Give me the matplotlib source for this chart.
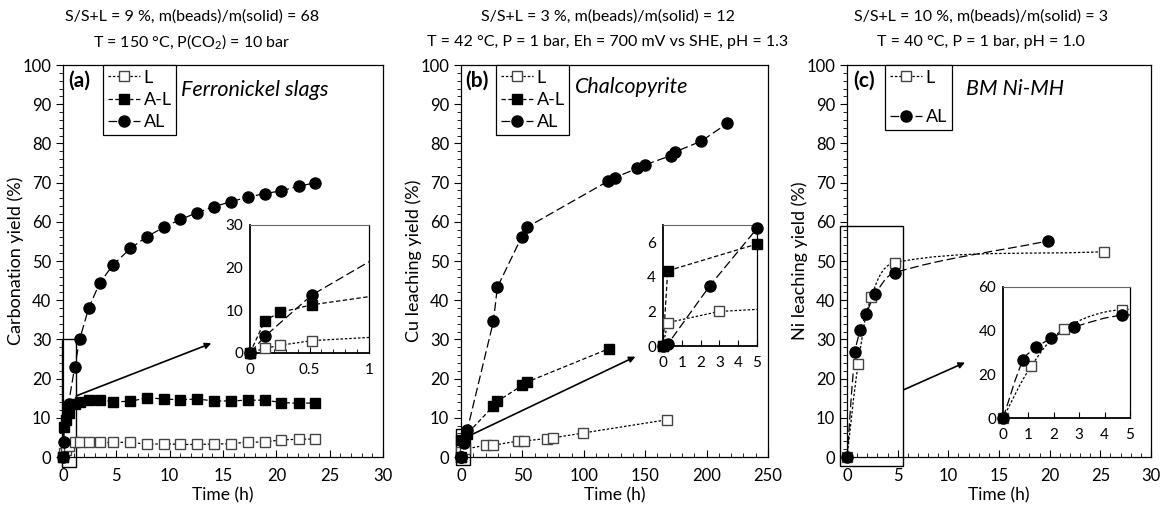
import numpy as np
import matplotlib
matplotlib.use("Agg")
import matplotlib.pyplot as plt
from matplotlib.path import Path
from matplotlib.patches import PathPatch, Rectangle
from matplotlib.lines import Line2D
from matplotlib.ticker import MultipleLocator

plt.rcParams['font.family'] = ['Lato', 'DejaVu Sans']
plt.rcParams['mathtext.fontset'] = 'custom'
plt.rcParams['mathtext.rm'] = 'Lato'

# ---- data ----
# (a) ferronickel slags, carbonation yield (%)
a_L_t = [0, 0.125, 0.25, 0.52, 1.1, 1.57, 2.41, 3.44, 4.69, 6.31, 7.87, 9.44, 11.0, 12.56, 14.19, 15.72, 17.31, 18.9, 20.47, 22.09, 23.59]
a_L_y = [0, 1.1, 1.8, 2.9, 3.8, 3.8, 3.8, 3.7, 3.7, 3.8, 3.2, 3.4, 3.2, 3.2, 3.3, 3.4, 3.8, 3.8, 4.4, 4.5, 4.6]
a_AmL_t = [0, 0.125, 0.25, 0.52, 1.1, 1.57, 2.41, 3.44, 4.69, 6.31, 7.87, 9.44, 11.0, 12.56, 14.19, 15.72, 17.31, 18.9, 20.47, 22.09, 23.59]
a_AmL_y = [0, 7.6, 9.5, 11.3, 13.6, 14.0, 14.6, 14.6, 14.1, 14.2, 15.1, 14.8, 14.6, 14.8, 14.3, 14.3, 14.5, 14.5, 13.9, 13.7, 13.8]
a_AL_t = [0, 0.125, 0.52, 1.1, 1.57, 2.41, 3.44, 4.69, 6.31, 7.87, 9.44, 11.0, 12.56, 14.19, 15.72, 17.31, 18.9, 20.47, 22.09, 23.59]
a_AL_y = [0, 3.9, 13.6, 23.0, 30.1, 38.0, 44.4, 49.0, 53.2, 56.2, 58.6, 60.6, 62.3, 63.9, 65.1, 66.3, 67.2, 67.9, 69.1, 69.9]

# (b) chalcopyrite, Cu leaching yield (%)
b_L_t = [0, 0.25, 3, 20, 26.4, 46.8, 51.4, 69.9, 75.3, 99, 167.8]
b_L_y = [0, 1.35, 2.0, 3.0, 3.0, 4.1, 4.1, 4.7, 4.9, 6.1, 9.5]
b_AmL_t = [0, 0.25, 5, 26.4, 29.6, 50, 53.6, 120.2]
b_AmL_y = [0, 4.35, 5.9, 13.0, 14.2, 18.3, 19.1, 27.6]
b_AL_t = [0, 0.25, 2.5, 5, 26.4, 29.6, 49.5, 53.6, 119.4, 125.4, 143.3, 149.6, 171.1, 174.1, 195.8, 216.8]
b_AL_y = [0, 0.1, 3.5, 6.8, 34.6, 43.3, 56.2, 58.6, 70.3, 71.3, 73.6, 74.5, 76.9, 77.8, 80.6, 85.1]

# (c) BM Ni-MH, Ni leaching yield (%)
c_L_t = [0, 1.1, 2.4, 4.7, 25.4]
c_L_y = [0, 23.6, 40.8, 49.6, 52.4]
c_AL_t = [0, 0.8, 1.3, 1.9, 2.8, 4.7, 19.8]
c_AL_y = [0, 26.7, 32.3, 36.5, 41.6, 47.0, 55.1]

titles = [
    ("S/S+L = 9 %, m(beads)/m(solid) = 68", r"T = 150 °C, P(CO$_2$) = 10 bar"),
    ("S/S+L = 3 %, m(beads)/m(solid) = 12", "T = 42 °C, P = 1 bar, Eh = 700 mV vs SHE, pH = 1.3"),
    ("S/S+L = 10 %, m(beads)/m(solid) = 3", "T = 40 °C, P = 1 bar, pH = 1.0"),
]

W, H = 1162, 512
fig = plt.figure(figsize=(W / 100, H / 100), dpi=100)


def box(x0, x1, ytop, ybot):
    return [x0 / W, 1 - ybot / H, (x1 - x0) / W, (ybot - ytop) / H]


LINE = {
    "L": dict(ls=(0, (2, 1.5)), color="black", lw=0.9),
    "A-L": dict(ls=(0, (3.5, 2)), color="black", lw=0.9),
    "AL": dict(ls=(0, (7, 3)), color="black", lw=0.9),
}
MARK = {
    "L": dict(marker="s", mfc="white", mec="#444444", ms=6.5, mew=1.0),
    "A-L": dict(marker="s", mfc="black", mec="black", ms=7.5),
    "AL": dict(marker="o", mfc="black", mec="black", ms=8),
}


def style_main(ax, xmax, xmaj, xmin, ylabel):
    ax.set_xlim(0, xmax)
    ax.set_ylim(0, 100)
    ax.xaxis.set_major_locator(MultipleLocator(xmaj))
    ax.xaxis.set_minor_locator(MultipleLocator(xmin))
    ax.yaxis.set_major_locator(MultipleLocator(10))
    ax.yaxis.set_minor_locator(MultipleLocator(2))
    ax.tick_params(axis="x", which="major", direction="in", length=5, labelsize=12, pad=8)
    ax.tick_params(axis="x", which="minor", direction="in", length=3)
    ax.tick_params(axis="y", which="major", direction="out", length=5, labelsize=12)
    ax.tick_params(axis="y", which="minor", direction="out", length=3)
    ax.set_xlabel("Time (h)", fontsize=12.5, labelpad=2)
    ax.set_ylabel(ylabel, fontsize=13, labelpad=-1)
    for s in ax.spines.values():
        s.set_linewidth(0.9)


def style_inset(ax, xmax, xmaj, xmin, ymax, ymaj):
    ax.set_xlim(0, xmax)
    ax.set_ylim(0, ymax)
    ax.xaxis.set_major_locator(MultipleLocator(xmaj))
    if xmin:
        ax.xaxis.set_minor_locator(MultipleLocator(xmin))
    ax.yaxis.set_major_locator(MultipleLocator(ymaj))
    ax.tick_params(axis="x", which="major", direction="in", length=4, labelsize=11, pad=7)
    ax.tick_params(axis="x", which="minor", direction="in", length=3)
    ax.tick_params(axis="y", which="major", length=0, labelsize=11, pad=5)
    ax.spines["left"].set_linewidth(1.3)
    ax.spines["bottom"].set_linewidth(1.3)
    ax.spines["top"].set_color("#666666")
    ax.spines["right"].set_linewidth(0.9)


def smooth_line(ax, x, y, key, sx, sy):
    # Excel-like smoothed line: bezier through data points (sx, sy scale to screen-ish units)
    p = np.column_stack([np.asarray(x, float) / sx, np.asarray(y, float) / sy])
    n = len(p)
    d = np.zeros_like(p)
    for i in range(n):
        v = p[min(i + 1, n - 1)] - p[max(i - 1, 0)]
        d[i] = v / (np.hypot(*v) or 1)
    verts = [p[0]]
    codes = [Path.MOVETO]
    for i in range(n - 1):
        L = np.hypot(*(p[i + 1] - p[i])) / 3
        verts += [p[i] + d[i] * L, p[i + 1] - d[i + 1] * L, p[i + 1]]
        codes += [Path.CURVE4] * 3
    verts = np.array(verts) * [sx, sy]
    s = LINE[key]
    ax.add_patch(PathPatch(Path(verts, codes), fill=False, lw=s["lw"], ls=s["ls"],
                           ec="black", zorder=2))


def series(ax, t, y, key, xmax, smooth=None):
    t = np.asarray(t, float)
    y = np.asarray(y, float)
    if smooth is None:
        ax.plot(t, y, zorder=2, **LINE[key])
    else:
        smooth_line(ax, t, y, key, *smooth)
    keep = t <= xmax
    ax.plot(t[keep], y[keep], ls="none", clip_on=False, zorder=5, **MARK[key])


def legend(ax, keys, x_left, spacing):
    handles = [Line2D([], [], **LINE[k], **MARK[k]) for k in keys]
    lg = ax.legend(handles, keys, loc="upper left", bbox_to_anchor=(x_left, 1.0), borderaxespad=0,
                   fancybox=False, edgecolor="black", framealpha=1, fontsize=13,
                   handlelength=1.8, handletextpad=0.2, labelspacing=spacing, borderpad=0.25)
    lg.get_frame().set_linewidth(0.9)
    lg.set_zorder(6)


def zoom_box(ax, x0, x1, y0, y1, start, end):
    ax.add_patch(Rectangle((x0, y0), x1 - x0, y1 - y0, fill=False, ec="black", lw=1.0,
                           clip_on=False, zorder=4))
    ax.annotate("", xy=end, xytext=start,
                arrowprops=dict(arrowstyle="-|>", color="black", lw=1.2, mutation_scale=9,
                                shrinkA=0, shrinkB=0))


# ---------- (a) ----------
ax = fig.add_axes(box(63, 383, 65, 457))
series(ax, a_L_t, a_L_y, "L", 30)
series(ax, a_AmL_t, a_AmL_y, "A-L", 30)
series(ax, a_AL_t, a_AL_y, "AL", 30)
style_main(ax, 30, 5, 1, "Carbonation yield (%)")
legend(ax, ["L", "A-L", "AL"], 0.125, 0.35)
ax.text(0.016, 0.985, "(a)", transform=ax.transAxes, ha="left", va="top", fontsize=15, fontweight="bold")
ax.text(0.37, 0.935, "Ferronickel slags", transform=ax.transAxes, ha="left", va="center",
        fontsize=15.5, style="italic")
zoom_box(ax, -0.05, 1.2, -2.5, 30, (1.25, 15.6), (13.9, 29))

ins = fig.add_axes(box(250, 369, 225, 353))
series(ins, a_L_t, a_L_y, "L", 1)
series(ins, a_AmL_t, a_AmL_y, "A-L", 1)
series(ins, a_AL_t, a_AL_y, "AL", 1)
style_inset(ins, 1, 0.5, 0.1, 30, 10)
ins.set_xticks([0, 0.5, 1], ["0", "0.5", "1"])

# ---------- (b) ----------
ax = fig.add_axes(box(461, 768, 65, 457))
series(ax, b_L_t, b_L_y, "L", 250)
series(ax, b_AmL_t, b_AmL_y, "A-L", 250)
series(ax, b_AL_t, b_AL_y, "AL", 250)
style_main(ax, 250, 50, 10, "Cu leaching yield (%)")
legend(ax, ["L", "A-L", "AL"], 0.114, 0.35)
ax.text(0.013, 0.985, "(b)", transform=ax.transAxes, ha="left", va="top", fontsize=15, fontweight="bold")
ax.text(0.372, 0.945, "Chalcopyrite", transform=ax.transAxes, ha="left", va="center",
        fontsize=15.5, style="italic")
zoom_box(ax, -4.4, 7.3, -2.1, 7.2, (7.3, 5.5), (142, 25.6))

ins = fig.add_axes(box(663, 757, 225, 346))
series(ins, b_L_t, b_L_y, "L", 5)
series(ins, b_AmL_t, b_AmL_y, "A-L", 5)
series(ins, b_AL_t, b_AL_y, "AL", 5)
style_inset(ins, 5, 1, None, 7, 2)

# ---------- (c) ----------
ax = fig.add_axes(box(847, 1151, 65, 457))
series(ax, c_L_t, c_L_y, "L", 30, smooth=(30, 100 * 304 / 392))
series(ax, c_AL_t, c_AL_y, "AL", 30, smooth=(30, 100 * 304 / 392))
style_main(ax, 30, 5, 1, "Ni leaching yield (%)")
legend(ax, ["L", "AL"], 0.125, 1.3)
ax.text(0.02, 0.985, "(c)", transform=ax.transAxes, ha="left", va="top", fontsize=15, fontweight="bold")
ax.text(0.39, 0.94, "BM Ni-MH", transform=ax.transAxes, ha="left", va="center",
        fontsize=15.5, style="italic")
zoom_box(ax, -0.72, 5.57, -2.3, 58.9, (5.64, 17.2), (11.64, 24.1))

ins = fig.add_axes(box(1003, 1130, 287, 418))
series(ins, c_L_t, c_L_y, "L", 5, smooth=(5, 60 * 127 / 131))
series(ins, c_AL_t, c_AL_y, "AL", 5, smooth=(5, 60 * 127 / 131))
style_inset(ins, 5, 1, None, 60, 20)

# ---------- titles ----------
for xc, (l1, l2) in zip([192, 608, 981], titles):
    fig.text(xc / W, 1 - 17 / H, l1, ha="center", va="center", fontsize=11.5)
    fig.text(xc / W, 1 - 42 / H, l2, ha="center", va="center", fontsize=11.5)

fig.savefig("out.png", dpi=100)
